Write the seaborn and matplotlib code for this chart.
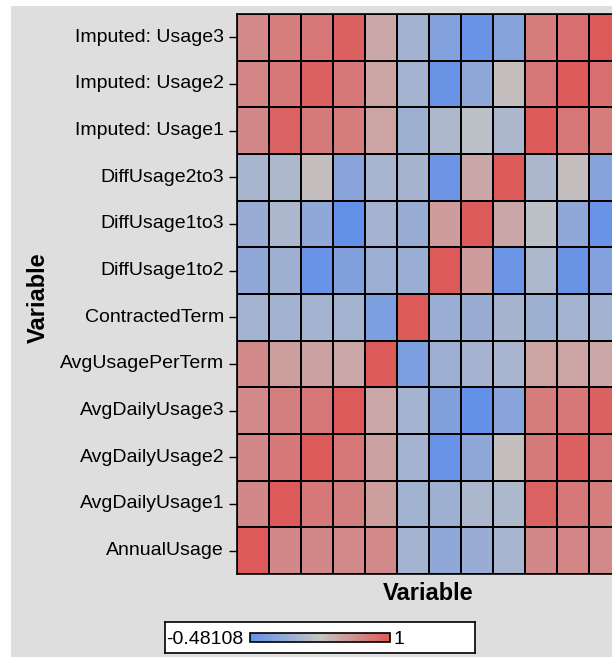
import numpy as np
import pandas as pd
import matplotlib
matplotlib.use("Agg")
import matplotlib.pyplot as plt
from matplotlib.colors import LinearSegmentedColormap
from matplotlib.patches import Rectangle
import seaborn as sns

variables = ["AnnualUsage", "AvgDailyUsage1", "AvgDailyUsage2", "AvgDailyUsage3",
             "AvgUsagePerTerm", "ContractedTerm", "DiffUsage1to2", "DiffUsage1to3",
             "DiffUsage2to3", "Imputed: Usage1", "Imputed: Usage2", "Imputed: Usage3"]

annual_usage = [1.00, 0.68, 0.68, 0.67, 0.67, 0.01, -0.15, -0.07, 0.05, 0.68, 0.69, 0.67]
avg_daily_usage1 = [0.68, 1.00, 0.79, 0.74, 0.52, 0.00, -0.03, 0.08, 0.09, 0.94, 0.79, 0.75]
avg_daily_usage2 = [0.68, 0.79, 1.00, 0.80, 0.50, 0.01, -0.45, -0.14, 0.30, 0.77, 0.95, 0.80]
avg_daily_usage3 = [0.67, 0.74, 0.80, 1.00, 0.46, 0.01, -0.25, -0.48108, -0.20, 0.76, 0.79, 0.95]
avg_usage_per_term = [0.67, 0.52, 0.50, 0.46, 1.00, -0.29, -0.05, 0.02, 0.05, 0.48, 0.48, 0.46]
contracted_term = [0.01, 0.00, 0.01, 0.01, -0.29, 1.00, -0.06, -0.07, 0.03, -0.03, 0.01, 0.00]
diff_usage1to2 = [-0.15, -0.03, -0.45, -0.25, -0.05, -0.06, 1.00, 0.54, -0.42, 0.09, -0.44, -0.24]
diff_usage1to3 = [-0.07, 0.08, -0.14, -0.48108, 0.02, -0.07, 0.54, 1.00, 0.47, 0.20, -0.14, -0.45]
diff_usage2to3 = [0.05, 0.09, 0.30, -0.20, 0.05, 0.03, -0.42, 0.47, 1.00, 0.07, 0.30, -0.22]
imputed_usage1 = [0.68, 0.94, 0.77, 0.76, 0.48, -0.03, 0.09, 0.20, 0.07, 1.00, 0.80, 0.76]
imputed_usage2 = [0.69, 0.79, 0.95, 0.79, 0.48, 0.01, -0.44, -0.14, 0.30, 0.80, 1.00, 0.85]
imputed_usage3 = [0.67, 0.75, 0.80, 0.95, 0.46, 0.00, -0.24, -0.45, -0.22, 0.76, 0.85, 1.00]

rows = [annual_usage, avg_daily_usage1, avg_daily_usage2, avg_daily_usage3,
        avg_usage_per_term, contracted_term, diff_usage1to2, diff_usage1to3,
        diff_usage2to3, imputed_usage1, imputed_usage2, imputed_usage3]

vmin_label = "-0.48108"
vmax_label = "1"
vmin, vmax = -0.48108, 1.0

df = pd.DataFrame(rows, index=variables, columns=variables)
df = df.iloc[::-1]  # first variable at the bottom

sns.set_theme(style="white")
plt.rcParams["font.family"] = ["Liberation Sans", "DejaVu Sans"]

cmap = LinearSegmentedColormap.from_list(
    "ramp3", [(100/255, 145/255, 232/255), (196/255, 196/255, 196/255), (221/255, 90/255, 90/255)])

W, H = 612, 657
fig = plt.figure(figsize=(W/100, H/100), dpi=100, facecolor="white")
fig.patches.append(Rectangle((11/W, 0), 1, 1 - 6/H, transform=fig.transFigure,
                             facecolor="#DEDEDE", edgecolor="none", zorder=-10))

ax = fig.add_axes([236.7/W, 1 - 574/H, 384/W, 560/H])
# legend box
box = fig.add_axes([165/W, 1 - 653/H, 310/W, 31/H])
box.set_facecolor("white")
box.set_xticks([]); box.set_yticks([])
for s in box.spines.values():
    s.set_color("black"); s.set_linewidth(1.2)
cax = fig.add_axes([250/W, 1 - 642/H, 140/W, 9/H])

sns.heatmap(df, ax=ax, cmap=cmap, vmin=vmin, vmax=vmax, linewidths=1.2, linecolor="black",
            xticklabels=False, yticklabels=True, cbar_ax=cax,
            cbar_kws={"orientation": "horizontal", "ticks": []})

ax.tick_params(axis="y", left=True, length=6, width=1, color="black", pad=3,
               labelsize=14, labelcolor="black")
for lab in ax.get_yticklabels():
    lab.set_rotation(0)
ax.set_xlabel(""); ax.set_ylabel("")
for s in ax.spines.values():
    s.set_visible(True); s.set_color("black"); s.set_linewidth(1.2)

cb = ax.collections[0].colorbar
cb.outline.set_edgecolor("black")
cb.outline.set_linewidth(1.2)
cax.set_xticks([])

fig.text(243/W, 1 - 639/H, vmin_label, ha="right", va="center", fontsize=14, color="black")
fig.text(393/W, 1 - 639/H, vmax_label, ha="left", va="center", fontsize=14, color="black")

fig.text(428/W, 1 - 593/H, "Variable", ha="center", va="center", fontsize=17,
         fontweight="bold", color="black")
fig.text(38/W, 1 - 298/H, "Variable", ha="center", va="center", fontsize=17,
         fontweight="bold", color="black", rotation=90)

fig.savefig("out.png", dpi=100, facecolor="white")
